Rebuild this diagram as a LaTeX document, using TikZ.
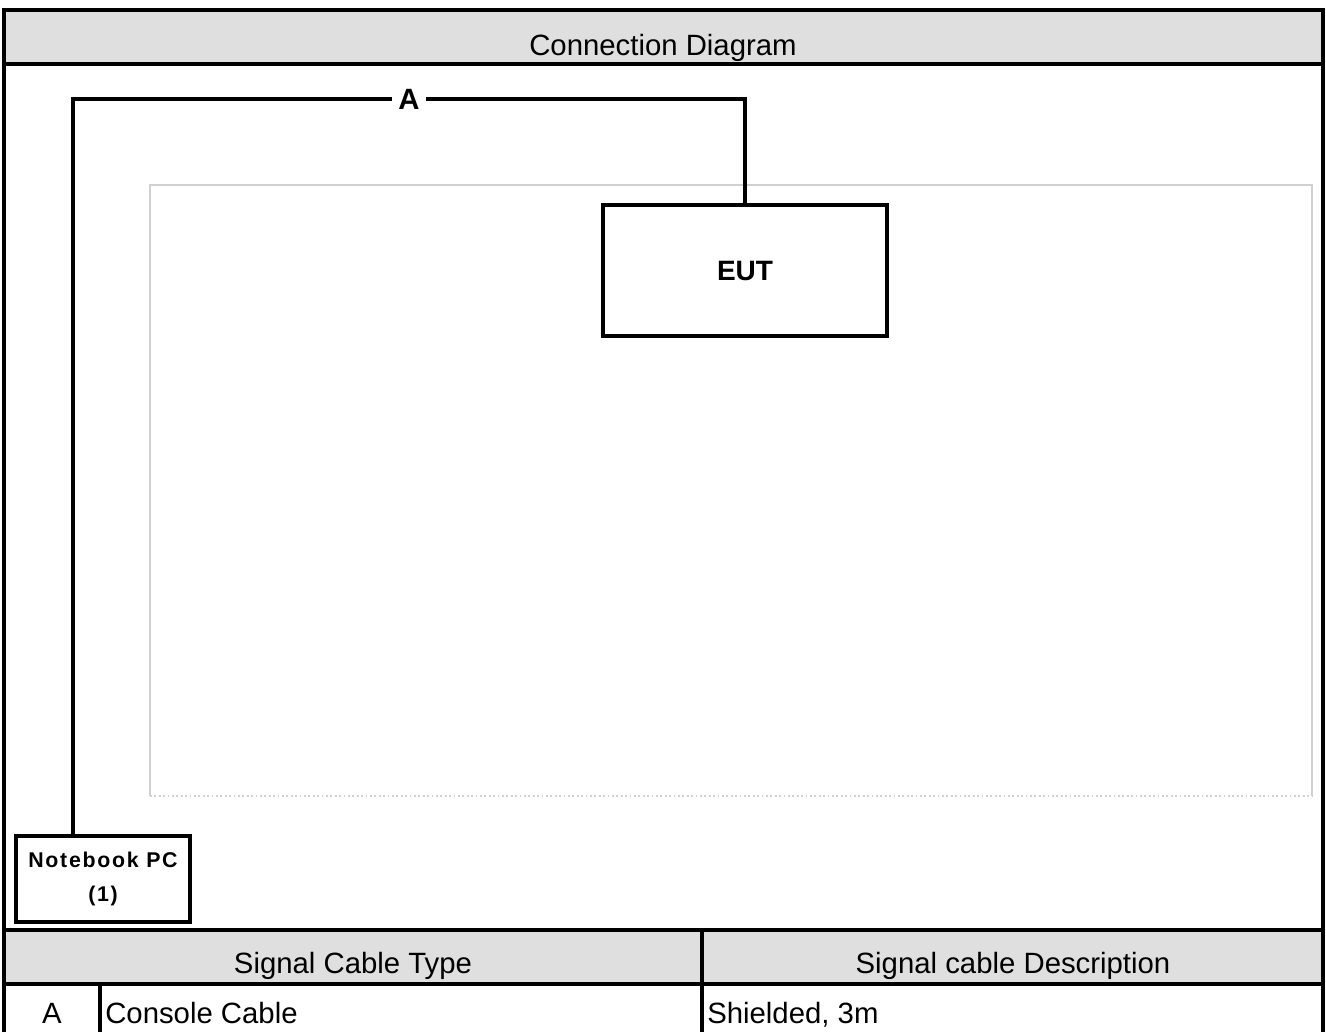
\documentclass[tikz,border=0pt]{standalone}
\usepackage{fontspec}
\setmainfont{Liberation Sans}
\newfontfamily\labelfont[LetterSpace=8]{Liberation Sans}
\usetikzlibrary{positioning}

\definecolor{headgray}{HTML}{DFDFDF}
\definecolor{tablegray}{HTML}{D0D0D0}

\begin{document}
\begin{tikzpicture}[x=0.75pt, y=-0.75pt, >=stealth]

    % styles
    \tikzset{
        frame/.style={line width=2.3pt},
        cable/.style={line width=2.4pt},
        unitbox/.style={draw, line width=2.4pt, fill=white, inner sep=0pt},
        headtext/.style={font=\fontsize{22}{26}\selectfont, anchor=base},
        celltext/.style={font=\fontsize{22}{26}\selectfont, anchor=base west, inner sep=0pt},
    }

    \useasboundingbox (0,0) rectangle (1326,1032);

    % =================================================================
    % 1. TITLE BAR AND OUTER FRAME
    % =================================================================
    \fill[headgray] (4,10) rectangle (1323,64);
    \fill[headgray] (4,930) rectangle (1323,984);
    \draw[frame] (4,1032) -- (4,10) -- (1323,10) -- (1323,1032);
    \draw[frame] (4,64) -- (1323,64);
    \node[headtext] (title) at (663,55) {Connection Diagram};

    % =================================================================
    % 2. TEST TABLE (light gray outline, dotted bottom edge)
    % =================================================================
    \draw[tablegray, line width=1.5pt] (150,796) -- (150,185) -- (1312,185) -- (1312,796);
    \draw[tablegray, line width=1.3pt, dotted] (150,796) -- (1312,796);

    % =================================================================
    % 3. UNITS AND CABLE
    % =================================================================
    \node[unitbox, minimum width=213pt, minimum height=98.25pt,
          font=\bfseries\fontsize{21}{24}\selectfont] (eut) at (745,270.5) {EUT};
    \node[unitbox, minimum width=130.5pt, minimum height=64.5pt, align=center,
          font=\labelfont\bfseries\fontsize{16}{26}\selectfont] (pc) at (103,879)
          {Notebook PC\\(1)};

    \coordinate (pcport) at (73,836);
    \coordinate (bend) at (73,99);
    \draw[cable] (pcport) -- (bend) -| (eut.north)
        node[pos=0.25, fill=white, inner sep=5pt,
             font=\bfseries\fontsize{22}{24}\selectfont] (cableA) {A};

    % =================================================================
    % 4. CABLE LIST
    % =================================================================
    \draw[frame] (4,930) -- (1323,930);
    \draw[frame] (4,984) -- (1323,984);
    \draw[frame] (702,930) -- (702,1032);
    \draw[frame] (100,984) -- (100,1032);

    \node[headtext] (typehead) at (353,973) {Signal Cable Type};
    \node[headtext] (deschead) at (1013,973) {Signal cable Description};
    \node[headtext] (rowid) at (52,1023) {A};
    \node[celltext] (rowtype) at (105,1023) {Console Cable};
    \node[celltext] (rowdesc) at (707,1023) {Shielded, 3m};

\end{tikzpicture}
\end{document}
